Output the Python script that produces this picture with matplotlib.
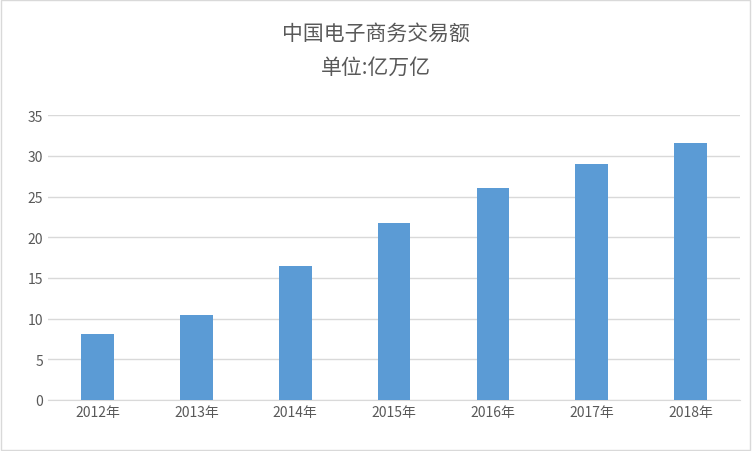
import matplotlib
matplotlib.use("Agg")
import matplotlib.pyplot as plt
from matplotlib.patches import Rectangle

plt.rcParams['font.family'] = ['Noto Sans CJK SC', 'DejaVu Sans']

# --- data ---
years = ['2012年', '2013年', '2014年', '2015年', '2016年', '2017年', '2018年']
values = [8.1, 10.4, 16.4, 21.8, 26.0, 29.0, 31.6]
yticks = [0, 5, 10, 15, 20, 25, 30, 35]

fig = plt.figure(figsize=(7.52, 4.52), dpi=100)
ax = fig.add_axes([0.064, 0.113, 0.92, 0.63])

ax.bar(years, values, width=0.33, color='#5B9BD5', zorder=3)
ax.set_ylim(0, 35)
ax.set_yticks(yticks)
ax.set_xlim(-0.5, len(years) - 0.5)
ax.grid(axis='y', color='#D9D9D9', linewidth=1, zorder=0)
for s in ['top', 'right', 'left']:
    ax.spines[s].set_visible(False)
ax.spines['bottom'].set_color('#D9D9D9')
ax.tick_params(length=0, colors='#595959', labelsize=10)

fig.text(0.5, 0.925, '中国电子商务交易额', ha='center', va='center', fontsize=15, color='#595959')
fig.text(0.5, 0.85, '单位:亿万亿', ha='center', va='center', fontsize=15, color='#595959')

fig.patches.append(Rectangle((0.001, 0.002), 0.997, 0.996, transform=fig.transFigure,
                             fill=False, edgecolor='#D9D9D9', linewidth=1))

fig.savefig('out.png', dpi=100)
